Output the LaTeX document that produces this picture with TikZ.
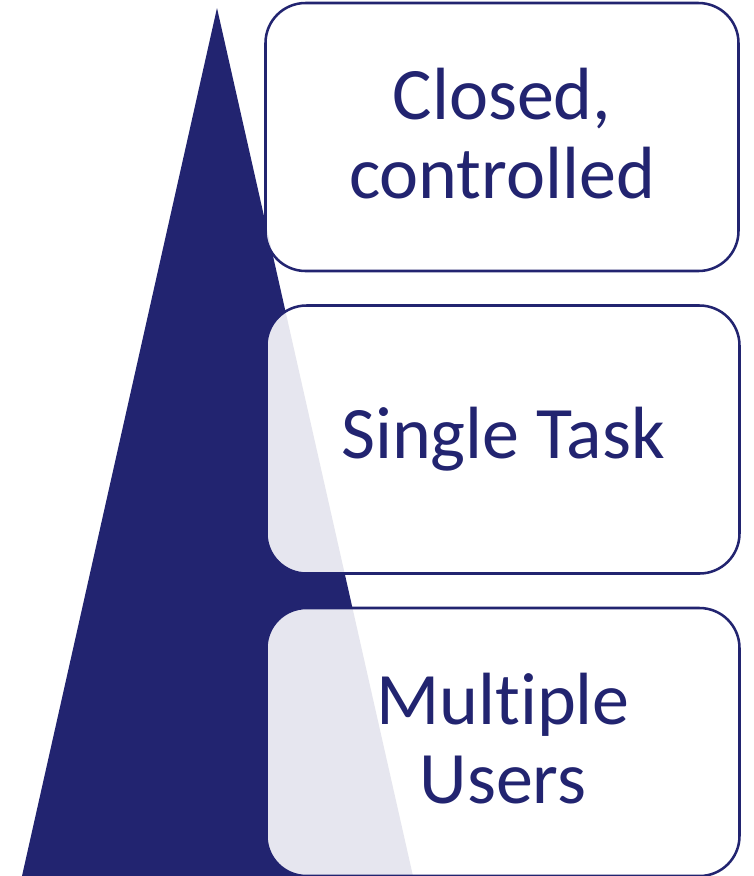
\documentclass[tikz,border=0pt]{standalone}
\usepackage{fontspec}
\newfontfamily\labelfont[Ligatures=NoCommon]{Carlito}
\definecolor{navy}{RGB}{34,36,112}
\begin{document}
\begin{tikzpicture}[x=0.75pt,y=-0.75pt,
  stagebox/.style={draw=navy, line width=1.9pt, fill=white, fill opacity=0.89,
    text opacity=1, rounded corners=30pt, minimum width=354.75pt,
    minimum height=201pt, inner sep=0pt, text=navy, align=center,
    font=\labelfont\fontsize{55.5}{59.25}\selectfont},
]
\useasboundingbox (0,0) rectangle (754,876);
% rising wedge behind the stages
\fill[navy] (217,8) -- (22,876) -- (413,876) -- cycle;
% the three stages
\node[stagebox, text depth=6pt] (closed) at (502,137) {Closed,\\controlled};
\node[stagebox] (single) at (503,439.5) {Single Task};
\node[stagebox, text depth=6pt] (multi) at (503,742) {Multiple\\Users};
\end{tikzpicture}
\end{document}
